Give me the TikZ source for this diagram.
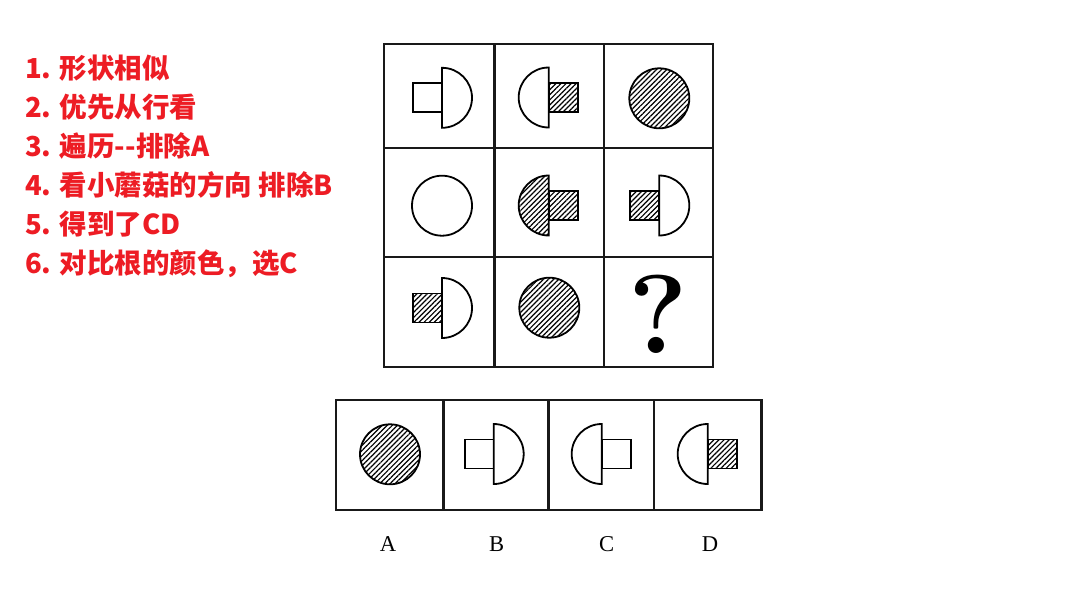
\documentclass[tikz,border=0pt]{standalone}
\usepackage{fontspec}
\setmainfont{Liberation Serif}
\newfontfamily\cjk{Noto Sans CJK SC}
\newfontfamily\lmfont{Latin Modern Roman}
\usetikzlibrary{patterns.meta}
\definecolor{notered}{RGB}{237,28,36}
\tikzset{
  gridline/.style={draw=black!90,line width=2.8pt},
  shapeline/.style={draw=black,line width=1.8pt},
  plainfill/.style={fill=white},
  hatchfill/.style={pattern={Lines[angle=45,distance=3.6pt,line width=1.2pt]}},
  note/.style={anchor=base west,inner sep=0pt,text=notered,font=\cjk\bfseries\fontsize{27.5}{30}\selectfont},
  optlabel/.style={anchor=base,inner sep=0pt,text=black,font=\fontsize{22.6}{26}\selectfont},
}
% cap on the right, stem on the left
\newcommand\mushR[4]{%
  \draw[shapeline,#4] (#1-29,#2-14.5) rectangle (#1,#2+14.5);
  \draw[shapeline,#3] (#1,#2) ++(0,30) arc[start angle=90,end angle=-90,radius=30] -- cycle;
}
% cap on the left, stem on the right
\newcommand\mushL[4]{%
  \draw[shapeline,#4] (#1,#2-14.5) rectangle (#1+29,#2+14.5);
  \draw[shapeline,#3] (#1,#2) ++(0,30) arc[start angle=90,end angle=270,radius=30] -- cycle;
}
\begin{document}
\begin{tikzpicture}[x=1pt,y=-1pt]
\useasboundingbox[fill=white] (0,0) rectangle (1074,614);

% notes
\node[note] (n1) at (25,78.8) {1. 形状相似};
\node[note] (n2) at (25,117.8) {2. 优先从行看};
\node[note] (n3) at (25,156.8) {3. 遍历-{}-排除A};
\node[note] (n4) at (25,195.8) {4. 看小蘑菇的方向 排除B};
\node[note] (n5) at (25,234.8) {5. 得到了CD};
\node[note] (n6) at (25,273.8) {6. 对比根的颜色，选C};

% 3x3 grid
\draw[gridline] (384,44) rectangle (713,367);
\draw[gridline] (494.5,44) -- (494.5,367);
\draw[gridline] (604,44) -- (604,367);
\draw[gridline] (384,148) -- (713,148);
\draw[gridline] (384,257) -- (713,257);

% row 1
\mushR{442}{97.8}{plainfill}{plainfill}
\mushL{548.7}{97.5}{plainfill}{hatchfill}
\draw[shapeline,hatchfill] (659.3,98.3) circle[radius=30];
% row 2
\draw[shapeline,plainfill] (442,205.7) circle[radius=30];
\mushL{548.7}{205.5}{hatchfill}{hatchfill}
\mushR{659.3}{205.5}{plainfill}{hatchfill}
% row 3
\mushR{442}{308}{plainfill}{hatchfill}
\draw[shapeline,hatchfill] (549.3,307.7) circle[radius=30];
\node[anchor=base,inner sep=0pt,font=\lmfont\bfseries\fontsize{112}{120}\selectfont] (q) at (658,353) {?};

% options
\draw[gridline] (336,400) rectangle (761.7,510);
\draw[gridline] (443.3,400) -- (443.3,510);
\draw[gridline] (548.3,400) -- (548.3,510);
\draw[gridline] (654,400) -- (654,510);

\draw[shapeline,hatchfill] (390,454.3) circle[radius=30];
\mushR{493.7}{454}{plainfill}{plainfill}
\mushL{601.7}{454}{plainfill}{plainfill}
\mushL{707.7}{454}{plainfill}{hatchfill}

\node[optlabel] (la) at (388,551.7) {A};
\node[optlabel] (lb) at (496.7,551.7) {B};
\node[optlabel] (lc) at (606.7,551.7) {C};
\node[optlabel] (ld) at (710,551.7) {D};
\end{tikzpicture}
\end{document}
